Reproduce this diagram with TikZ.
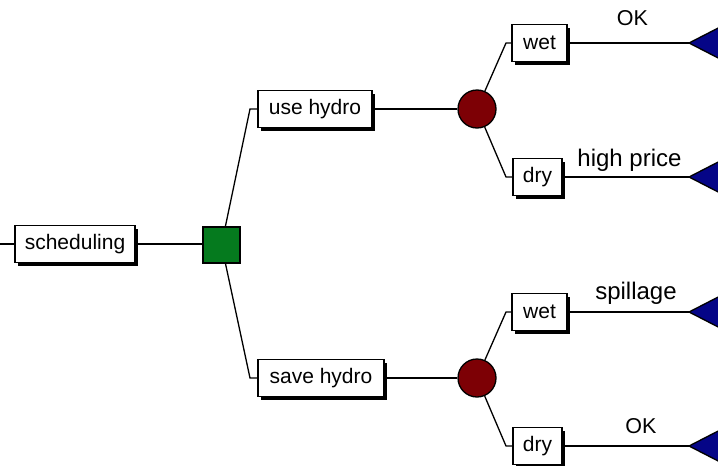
\documentclass[tikz,border=0pt]{standalone}
\usepackage{fontspec}
\setmainfont{Liberation Sans}
\usetikzlibrary{shadows}
\definecolor{sqgreen}{RGB}{5,122,30}
\definecolor{chred}{RGB}{125,0,5}
\definecolor{endblue}{RGB}{5,5,135}
\tikzset{
  conn/.style={line width=1.3pt},
  choicebox/.style={draw, fill=white, line width=1.3pt, rectangle, inner sep=0pt,
    minimum height=37pt, font=\fontsize{21}{25}\selectfont,
    drop shadow={shadow xshift=3pt, shadow yshift=-3pt, fill=black, opacity=1}},
  decision/.style={draw, fill=sqgreen, line width=1.3pt, rectangle, minimum width=37pt, minimum height=36pt, inner sep=0pt},
  chance/.style={draw, fill=chred, line width=1.3pt, circle, minimum size=38pt, inner sep=0pt},
  endtri/.style={draw, fill=endblue, line width=1.3pt},
  outlabel/.style={anchor=base, inner sep=0pt, font=\fontsize{24}{28}\selectfont},
  oklabel/.style={outlabel, font=\fontsize{21.5}{26}\selectfont}
}
\begin{document}
\begin{tikzpicture}[x=1pt,y=-1pt]
\useasboundingbox (0,0) rectangle (718,466);
\clip (0,0) rectangle (718,466);
% nodes
\node[choicebox, minimum width=120pt] (sched) at (75,244) {scheduling};
\node[decision] (sq) at (221.5,245) {};
\node[choicebox, minimum width=114pt] (use) at (315,109) {use hydro};
\node[choicebox, minimum width=126pt] (save) at (321,378) {save hydro};
\node[chance] (c1) at (477,109) {};
\node[chance] (c2) at (477,378) {};
\node[choicebox, minimum width=55pt] (wet1) at (539.5,43) {wet};
\node[choicebox, minimum width=49pt] (dry1) at (537.5,177) {dry};
\node[choicebox, minimum width=55pt] (wet2) at (539.5,312) {wet};
\node[choicebox, minimum width=49pt] (dry2) at (537.5,446) {dry};
% coordinates
\coordinate (s0) at (0,244);
\coordinate (e1) at (250,109);
\coordinate (e2) at (250,378);
\coordinate (e3) at (506,43);
\coordinate (e4) at (506,177);
\coordinate (e5) at (506,312);
\coordinate (e6) at (506,446);
\coordinate (t1) at (689,43);
\coordinate (t2) at (689,177);
\coordinate (t3) at (689,312);
\coordinate (t4) at (689,446);
% connectors
\draw[conn] (s0) -- (sched.west);
\draw[conn] (sched.east) -- (sq.west |- sched.east);
\draw[conn] (sq) -- (e1) -- (use.west);
\draw[conn] (sq) -- (e2) -- (save.west);
\draw[conn] (use.east) -- (c1);
\draw[conn] (save.east) -- (c2);
\draw[conn] (c1) -- (e3) -- (wet1.west);
\draw[conn] (c1) -- (e4) -- (dry1.west);
\draw[conn] (c2) -- (e5) -- (wet2.west);
\draw[conn] (c2) -- (e6) -- (dry2.west);
\draw[conn] (wet1.east) -- (t1);
\draw[conn] (dry1.east) -- (t2);
\draw[conn] (wet2.east) -- (t3);
\draw[conn] (dry2.east) -- (t4);
% end triangles
\foreach \t in {t1,t2,t3,t4}{
  \draw[endtri] (\t) -- ++(36,-18.5) -- ++(0,37) -- cycle;
}
% outcome labels
\node[oklabel] (l1) at (632.5,25) {OK};
\node[outlabel] (l2) at (629.5,166) {high price};
\node[outlabel] (l3) at (636,299) {spillage};
\node[oklabel] (l4) at (641,433) {OK};
\end{tikzpicture}
\end{document}
